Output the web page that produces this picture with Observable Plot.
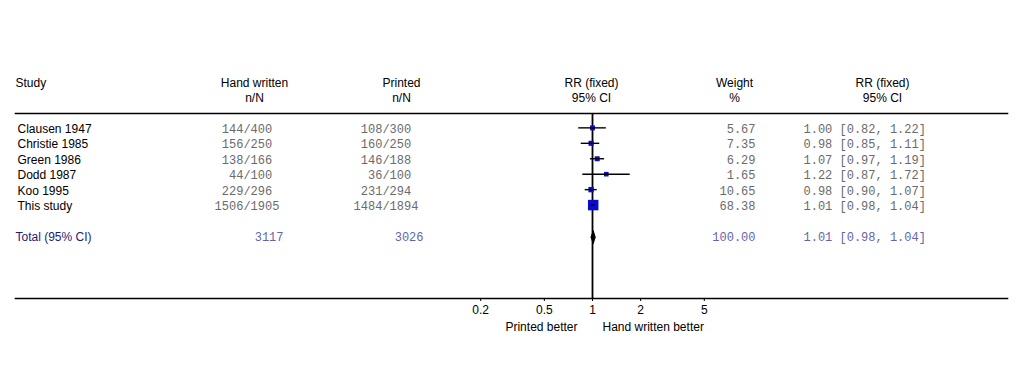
<!DOCTYPE html>
<html>
<head>
<meta charset="utf-8">
<script src="https://cdn.jsdelivr.net/npm/d3@7"></script>
<script src="https://cdn.jsdelivr.net/npm/@observablehq/plot@0.6"></script>
<style>
  html, body { margin: 0; padding: 0; background: #fff; }
  #chart { width: 1022px; height: 365px; }
</style>
</head>
<body>
<div id="chart"></div>
<script>
// ---- Data ----
const studies = ["Clausen 1947", "Christie 1985", "Green 1986", "Dodd 1987", "Koo 1995", "This study"];
const handEvents = [144, 156, 138, 44, 229, 1506];
const handTotals = [400, 250, 166, 100, 296, 1905];
const printedEvents = [108, 160, 146, 36, 231, 1484];
const printedTotals = [300, 250, 188, 100, 294, 1894];
const weights = [5.67, 7.35, 6.29, 1.65, 10.65, 68.38];
const rr = [1.00, 0.98, 1.07, 1.22, 0.98, 1.01];
const ciLow = [0.82, 0.85, 0.97, 0.87, 0.90, 0.98];
const ciHigh = [1.22, 1.11, 1.19, 1.72, 1.07, 1.04];

const totalLabel = "Total (95% CI)";
const totalHand = 3117;
const totalPrinted = 3026;
const totalWeight = 100.00;
const totalRR = 1.01;
const totalLow = 0.98;
const totalHigh = 1.04;

const xTicks = [0.2, 0.5, 1, 2, 5];
const favourLeft = "Printed better";
const favourRight = "Hand written better";

const headStudy = ["Study"];
const headHand = ["Hand written", "n/N"];
const headPrinted = ["Printed", "n/N"];
const headForest = ["RR (fixed)", "95% CI"];
const headWeight = ["Weight", "%"];
const headCI = ["RR (fixed)", "95% CI"];

// ---- Build tables ----
const NB = "\u00a0";
const nN = (e, n) => String(e).padStart(String(n).length, NB) + "/" + n;
const ciText = (m, l, h) => `${m.toFixed(2)} [${l.toFixed(2)}, ${h.toFixed(2)}]`;

const rows = studies.map((s, i) => ({
  i, study: s,
  hand: nN(handEvents[i], handTotals[i]),
  printed: nN(printedEvents[i], printedTotals[i]),
  weight: weights[i].toFixed(2),
  rr: rr[i], lo: ciLow[i], hi: ciHigh[i],
  w: weights[i],
  ci: ciText(rr[i], ciLow[i], ciHigh[i])
}));
const totalRow = studies.length + 1;
const total = [{
  i: totalRow, label: totalLabel, hand: String(totalHand), printed: String(totalPrinted),
  weight: totalWeight.toFixed(2), ci: ciText(totalRR, totalLow, totalHigh)
}];
const diamondH = 0.42;
const diamond = [
  {x: totalLow, y: totalRow},
  {x: totalRR, y: totalRow - diamondH},
  {x: totalHigh, y: totalRow},
  {x: totalRR, y: totalRow + diamondH},
  {x: totalLow, y: totalRow}
];
const headerRows = (arr) => arr.map((t, k) => ({t, y: k - 3}));

// ---- Layout ----
const ML = 15;               // frame left (px)
const at = (px) => px - ML;  // dx from frame left
const sans = "Liberation Sans, Arial, Helvetica, sans-serif";
const mono = "Liberation Mono, Courier New, monospace";
const rowGray = "#6a6a6a";
const navy = "#1c1c78";
const navyLight = "#6464aa";

const plot = Plot.plot({
  width: 1022,
  height: 365,
  marginLeft: ML,
  marginRight: 15,
  marginTop: 113,
  marginBottom: 67,
  style: {fontFamily: sans, fontSize: "12px", background: "white", color: "black"},
  x: {type: "log", domain: [0.2, 5], range: [592 - 111.8, 592 + 111.8]},
  y: {type: "linear", domain: [0, 7], range: [128.6, 236.7], axis: null},
  r: {type: "linear", domain: [0, 70], range: [2.5, 6]},
  marks: [
    // rules
    Plot.frame({anchor: "top", stroke: "black", strokeWidth: 1.6}),
    Plot.frame({anchor: "bottom", stroke: "black", strokeWidth: 1.6}),
    Plot.ruleX([1], {stroke: "black", strokeWidth: 1.8}),
    Plot.axisX({ticks: xTicks, tickFormat: (d) => String(d), tickSize: 3, tickPadding: 4, label: null, fontSize: 12}),

    // headers
    Plot.text(headerRows(headStudy), {y: "y", text: "t", frameAnchor: "left", dx: at(15), textAnchor: "start", fontSize: 12}),
    Plot.text(headerRows(headHand), {y: "y", text: "t", frameAnchor: "left", dx: at(254), textAnchor: "middle", fontSize: 12}),
    Plot.text(headerRows(headPrinted), {y: "y", text: "t", frameAnchor: "left", dx: at(401), textAnchor: "middle", fontSize: 12}),
    Plot.text(headerRows(headForest), {y: "y", text: "t", frameAnchor: "left", dx: at(591), textAnchor: "middle", fontSize: 12}),
    Plot.text(headerRows(headWeight), {y: "y", text: "t", frameAnchor: "left", dx: at(734), textAnchor: "middle", fontSize: 12}),
    Plot.text(headerRows(headCI), {y: "y", text: "t", frameAnchor: "left", dx: at(882), textAnchor: "middle", fontSize: 12}),

    // study rows
    Plot.text(rows, {y: "i", text: "study", frameAnchor: "left", dx: at(17), textAnchor: "start", fontSize: 12, fill: "black"}),
    Plot.text(rows, {y: "i", text: "hand", frameAnchor: "left", dx: at(246.5), textAnchor: "middle", fontFamily: mono, fontSize: 12, fill: rowGray}),
    Plot.text(rows, {y: "i", text: "printed", frameAnchor: "left", dx: at(385.5), textAnchor: "middle", fontFamily: mono, fontSize: 12, fill: rowGray}),
    Plot.text(rows, {y: "i", text: "weight", frameAnchor: "left", dx: at(755), textAnchor: "end", fontFamily: mono, fontSize: 12, fill: rowGray}),
    Plot.text(rows, {y: "i", text: "ci", frameAnchor: "left", dx: at(803), textAnchor: "start", fontFamily: mono, fontSize: 12, fill: rowGray}),

    // total row
    Plot.text(total, {y: "i", text: "label", frameAnchor: "left", dx: at(15), textAnchor: "start", fontSize: 12, fill: navy}),
    Plot.text(total, {y: "i", text: "hand", frameAnchor: "left", dx: at(283), textAnchor: "end", fontFamily: mono, fontSize: 12, fill: navyLight}),
    Plot.text(total, {y: "i", text: "printed", frameAnchor: "left", dx: at(423), textAnchor: "end", fontFamily: mono, fontSize: 12, fill: navyLight}),
    Plot.text(total, {y: "i", text: "weight", frameAnchor: "left", dx: at(755), textAnchor: "end", fontFamily: mono, fontSize: 12, fill: navyLight}),
    Plot.text(total, {y: "i", text: "ci", frameAnchor: "left", dx: at(803), textAnchor: "start", fontFamily: mono, fontSize: 12, fill: navyLight}),

    // forest: squares, CI lines, diamond
    Plot.dot(rows, {x: "rr", y: (d) => d.i - 0.08, r: "w", symbol: "square", fill: "#0a0ad0", stroke: "none"}),
    Plot.ruleY(rows, {y: (d) => d.i - 0.08, x1: "lo", x2: "hi", stroke: "black", strokeWidth: 1.4}),
    Plot.line(diamond, {x: "x", y: "y", fill: "black", stroke: "black", strokeWidth: 1}),

    // favour labels
    Plot.text([favourLeft], {x: [1], text: (d) => d, frameAnchor: "bottom", dy: 32, dx: -15, textAnchor: "end", fontSize: 12}),
    Plot.text([favourRight], {x: [1], text: (d) => d, frameAnchor: "bottom", dy: 32, dx: 10, textAnchor: "start", fontSize: 12})
  ]
});
document.getElementById("chart").appendChild(plot);
</script>
</body>
</html>
